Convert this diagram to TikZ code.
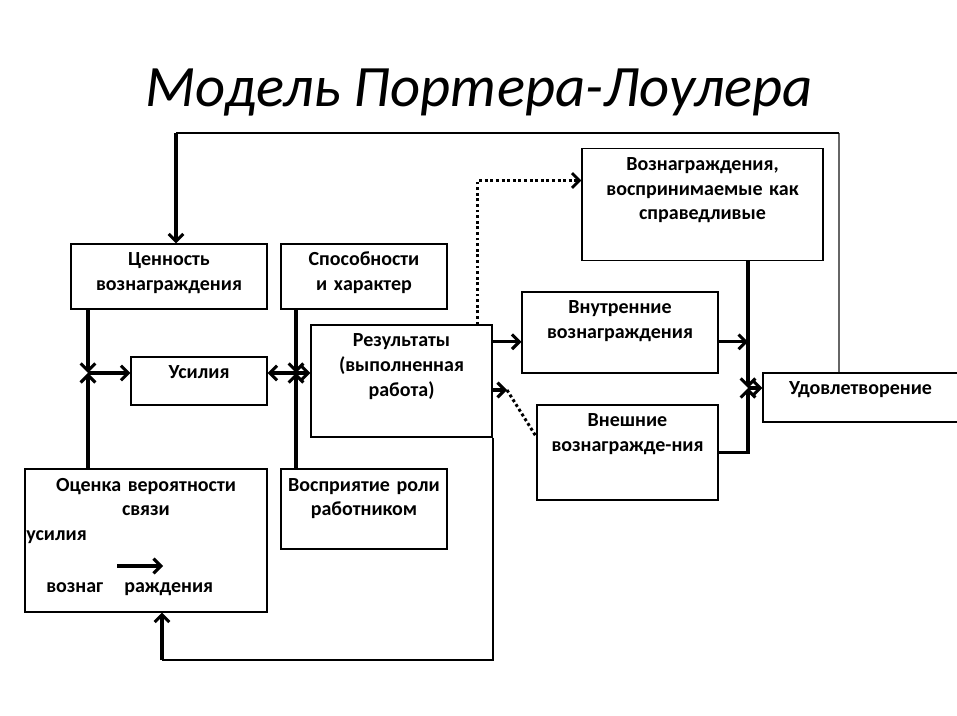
\documentclass[tikz,border=0pt]{standalone}
\usepackage{fontspec}
\setmainfont{Carlito}
\usetikzlibrary{arrows.meta}
\tikzstyle{block} = [rectangle, draw=black, line width=0.8pt, text centered, text height=12pt, inner xsep=4.5pt, inner ysep=4.5pt, font=\fontsize{15}{18.5}\selectfont\bfseries]
\tikzstyle{plain} = [inner sep=0pt, font=\fontsize{15}{18.5}\selectfont\bfseries]
\tikzstyle{arrow} = [line width=2.3pt, ->, >={Straight Barb[length=5.5pt, width=11pt]}]
\tikzstyle{line} = [line width=1.2pt]
\tikzstyle{dotline} = [line width=2.2pt, dotted]
\tikzstyle{dotarrow} = [line width=2.2pt, dotted, ->, >={Straight Barb[length=5.5pt, width=11pt]}]

\begin{document}
\begin{tikzpicture}[x=0.75pt, y=-0.75pt]
\useasboundingbox (0,0) rectangle (957,716);

\node (title) [anchor=base, font=\fontsize{44}{50}\selectfont\itshape] at (479,107) {Модель Портера-Лоулера};

% boxes
\node (cen) [block, text width=138pt, text depth=27.75pt] at (169,276.5) {Ценность\\вознаграждения};
\node (spo) [block, text width=115.5pt, text depth=27.75pt] at (364,276.5) {Способности\\и характер};
\node (usi) [block, text width=93pt, text depth=15pt] at (199,381) {Усилия};
\node (res) [block, text width=126.75pt, text depth=63pt] at (401.5,381) {Результаты\\(выполненная\\работа)};
\node (spr) [block, text width=171.75pt, text depth=63pt] at (702.5,204.5) {Вознаграждения,\\воспринимаемые как\\справедливые};
\node (vnu) [block, text width=138pt, text depth=39.75pt] at (620,332.5) {Внутренние\\вознаграждения};
\node (vne) [block, text width=126.75pt, text depth=50.25pt] at (627.5,452.5) {Внешние\\вознагражде-ния};
\node (udo) [block, text width=137.25pt, text depth=15.75pt] at (860.5,397.5) {Удовлетворение};
\node (ots) [block, text width=172.5pt, text depth=86.25pt] at (146,540.5) {Оценка вероятности\\связи};
\node (vos) [block, text width=115.5pt, text depth=39pt] at (364,509) {Восприятие роли\\работником};

% text inside the estimate box
\node (ots1) [plain, anchor=base west] at (26,540) {усилия};
\node (ots2) [plain, anchor=base west] at (46,592) {вознаг};
\node (ots3) [plain, anchor=base west] at (124,592) {раждения};
\coordinate (pa) at (117,566);
\coordinate (pb) at (163,566);
\draw [arrow] (pa) -- (pb);

% junctions
\coordinate (j1) at (88,373);
\coordinate (j2) at (296,373);
\coordinate (j3) at (748,388);
\coordinate (dt) at (507,390);
\coordinate (fbr) at (839,133);
\coordinate (fbl) at (176,133);
\coordinate (fbb) at (162,660);

\draw [arrow] (cen.south -| j1) -- (j1);
\draw [arrow] (ots.north -| j1) -- (j1);
\draw [arrow] (j1) -- (j1 -| usi.west);
\draw [arrow] (spo.south -| j2) -- (j2);
\draw [arrow] (vos.north -| j2) -- (j2);
\draw [arrow] (j2) -- (j2 -| usi.east);
\draw [arrow] (j2) -- (j2 -| res.west);
\draw [arrow] ([yshift=-7pt]vnu.west -| res.east) -- ([yshift=-7pt]vnu.west);
\draw [dotarrow] ([xshift=-11.25pt]res.north east) |- ([yshift=18pt]spr.west);
\draw [arrow] (res.east |- dt) -- (dt);
\draw [dotline] (dt) -- ([yshift=11.5pt]vne.west);
\draw [arrow] (spr.south -| j3) -- (j3);
\draw [arrow] ([yshift=-7pt]vnu.east) -- ([yshift=-7pt]vnu.east -| j3);
\draw [arrow] (vne.east) -| (j3);
\draw [arrow] (j3) -- (j3 -| udo.west);

% feedback loops
\draw [line width=0.8pt, black!60] (udo.north -| fbr) -- (fbr);
\draw [line] (fbr) -- (fbl);
\draw [arrow] (fbl) -- (fbl |- cen.north);
\draw [line width=1.5pt] (res.south east) |- (fbb);
\draw [arrow] (fbb) -- (fbb |- ots.south);

\end{tikzpicture}
\end{document}
